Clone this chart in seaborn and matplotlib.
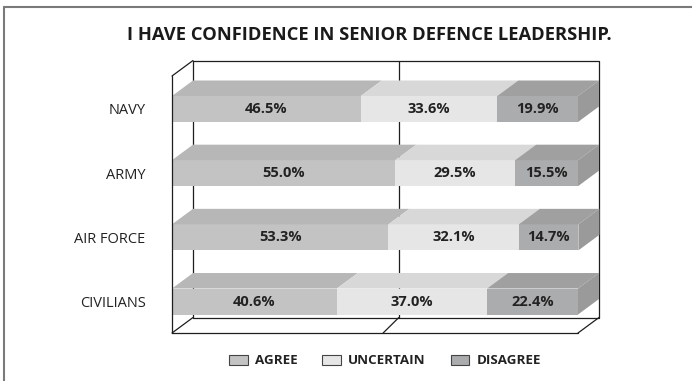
import matplotlib
matplotlib.use("Agg")
import matplotlib.pyplot as plt
import seaborn as sns
import pandas as pd
from matplotlib.patches import Polygon, Patch
from matplotlib.lines import Line2D

# ---- data ----
title = "I HAVE CONFIDENCE IN SENIOR DEFENCE LEADERSHIP."
categories = ["NAVY", "ARMY", "AIR FORCE", "CIVILIANS"]
agree = [46.5, 55.0, 53.3, 40.6]
uncertain = [33.6, 29.5, 32.1, 37.0]
disagree = [19.9, 15.5, 14.7, 22.4]
series_names = ["AGREE", "UNCERTAIN", "DISAGREE"]

# ---- style ----
front_cols = ["#c3c3c3", "#e6e6e7", "#abacad"]
top_cols = ["#b7b7b7", "#d8d8d9", "#a0a0a1"]
side_col = "#9a9a9b"
line_col = "#1e1e1e"
text_col = "#222222"

sns.set_theme(style="white")
plt.rcParams['font.family'] = ['Open Sans', 'DejaVu Sans']

W, H = 692, 381
fig = plt.figure(figsize=(W / 100, H / 100), dpi=100)
L, R, T, B = 172, 578, 76, 333
ax = fig.add_axes([L / W, 1 - B / H, (R - L) / W, (B - T) / H])

df = pd.DataFrame({"cat": categories, "agree": agree,
                   "unc": uncertain, "dis": disagree})
df["c2"] = df["agree"] + df["unc"]
df["c3"] = df["c2"] + df["dis"]

pitch = 64.2
bw = 26 / pitch
for col, c in zip(["c3", "c2", "agree"], front_cols[::-1]):
    sns.barplot(data=df, y="cat", x=col, color=c, width=bw, ax=ax,
                saturation=1, linewidth=0, edgecolor="none", orient="h")

ytop_lim = -(109 - T) / pitch
ybot_lim = 3 + (B - 301.5) / pitch
ax.set_xlim(0, 100)
ax.set_ylim(ybot_lim, ytop_lim)

DX = 21 / ((R - L) / 100)
DY = 15.5 / pitch

# 3D faces
for i in range(len(categories)):
    yt = i - bw / 2
    yb = i + bw / 2
    bounds = [0, agree[i], agree[i] + uncertain[i],
              agree[i] + uncertain[i] + disagree[i]]
    for k in range(3):
        x0, x1 = bounds[k], bounds[k + 1]
        ax.add_patch(Polygon([(x0, yt), (x1, yt), (x1 + DX, yt - DY), (x0 + DX, yt - DY)],
                             closed=True, facecolor=top_cols[k], edgecolor="none",
                             clip_on=False, zorder=2))
        vals = [agree, uncertain, disagree][k]
        ax.text((x0 + x1) / 2, i, f"{vals[i]:.1f}%", ha="center", va="center",
                fontsize=10.5, fontweight="bold", color=text_col, zorder=6)
    xe = bounds[-1]
    ax.add_patch(Polygon([(xe, yt), (xe + DX, yt - DY), (xe + DX, yb - DY), (xe, yb)],
                         closed=True, facecolor=side_col, edgecolor="none",
                         clip_on=False, zorder=2))

# frame lines
lw = 0.9
def seg(xs, ys, z=0.5):
    ax.add_line(Line2D(xs, ys, color=line_col, lw=lw, clip_on=False, zorder=z))

bt, bb = ytop_lim - DY, ybot_lim - DY
seg([DX, 100 + DX, 100 + DX, DX, DX], [bt, bt, bb, bb, bt])
seg([50.7 + DX, 50.7 + DX], [bt, bb])
seg([0, 100], [ybot_lim, ybot_lim])
seg([0, DX], [ybot_lim, bb])
seg([100, 100 + DX], [ybot_lim, bb])
seg([52, 50.7 + DX], [ybot_lim, bb])
seg([0, DX], [ytop_lim, bt])
seg([0, 0], [ytop_lim, ybot_lim], z=5)

for s in ax.spines.values():
    s.set_visible(False)
ax.set_xticks([])
ax.set_yticks(range(len(categories)))
ax.set_yticklabels(categories)
ax.tick_params(axis="y", length=0, pad=19, labelsize=10.5, labelcolor=text_col)
ax.set_xlabel("")
ax.set_ylabel("")
ax.patch.set_alpha(0)

fig.text(369 / W, 1 - 35 / H, title, ha="center", va="center",
         fontsize=13.2, fontweight="bold", color="#1a1a1a")

handles = [Patch(facecolor=c, edgecolor="#444444", linewidth=0.8) for c in front_cols]
fig.legend(handles, series_names, loc="center", bbox_to_anchor=(385 / W, 1 - 361 / H),
           ncol=3, frameon=False, prop=dict(weight="bold", size=9.6),
           handlelength=1.4, handleheight=0.75, handletextpad=0.55,
           columnspacing=1.85, labelcolor=text_col)

# outer border (left and top)
fig.add_artist(Line2D([4 / W, 4 / W], [0, 1 - 7 / H], color="#7a7a7a", lw=1.5,
                      transform=fig.transFigure))
fig.add_artist(Line2D([4 / W, 1], [1 - 7 / H, 1 - 7 / H], color="#7a7a7a", lw=1.5,
                      transform=fig.transFigure))

fig.savefig("out.png", dpi=100)
